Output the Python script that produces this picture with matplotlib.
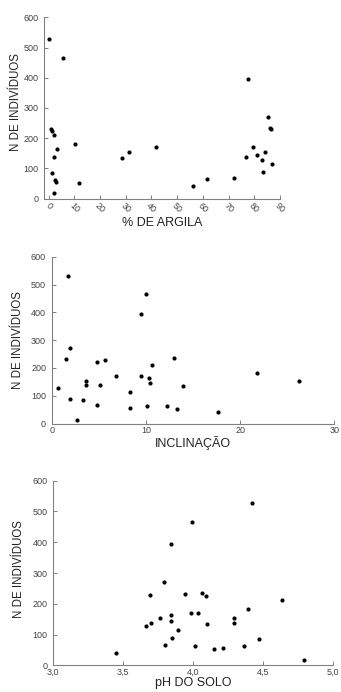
#encoding:utf-8
# N de indivíduos x % de argila, inclinação e pH do solo
import matplotlib
matplotlib.use('Agg')
from matplotlib import pyplot as plt

# % de argila
argila_x = [0.0, 5.7, 1.0, 1.3, 2.1, 3.4, 2.2, 1.2, 2.5, 3.0, 2.2, 10.4, 11.7,
            28.5, 31.1, 41.6, 56.0, 61.7, 72.0, 77.7, 76.9, 79.4, 80.9, 83.0,
            83.4, 84.2, 85.5, 86.0, 86.5, 87.0]
argila_y = [528, 464, 230, 225, 212, 163, 138, 86, 62, 55, 17, 182, 53,
            136, 153, 172, 41, 65, 67, 395, 139, 171, 144, 128,
            89, 153, 270, 235, 231, 116]

# inclinação
incl_x = [1.77, 9.97, 9.48, 1.98, 1.49, 4.78, 5.66, 12.98, 10.65, 6.79, 9.48,
          10.33, 10.47, 3.64, 3.64, 5.13, 13.94, 0.64, 8.31, 1.98, 3.29, 4.81,
          10.12, 12.27, 8.31, 13.30, 17.6, 2.65, 21.75, 26.28]
incl_y = [529, 466, 395, 271, 231, 223, 229, 235, 211, 171, 171,
          163, 144, 153, 138, 137, 134, 127, 114, 89, 84, 67,
          63, 63, 55, 53, 40, 14, 182, 152]

# pH do solo
ph_x = [4.42, 3.99, 3.84, 3.79, 3.69, 3.94, 4.06, 4.09, 4.63, 4.39, 3.98, 4.03,
        3.76, 3.84, 3.84, 3.70, 3.66, 4.10, 4.29, 4.29, 3.89, 3.85, 4.47, 3.80,
        4.01, 4.36, 4.15, 4.21, 3.45, 4.79]
ph_y = [529, 465, 394, 270, 230, 232, 236, 225, 211, 182, 171, 171,
        154, 164, 145, 139, 128, 135, 154, 138, 114, 90, 85, 67,
        64, 64, 54, 55, 41, 16]

plt.rcParams['font.family'] = ['Liberation Sans', 'DejaVu Sans']
cinza = '#808080'


def grafico(ax, x, y, xlim, xticks, xticklabels, xlabel, ylab_pos, xlab_pos):
    ax.plot(x, y, 'o', color='black', markersize=3, markeredgewidth=0)
    ax.set_xlim(xlim)
    ax.set_ylim(0, 600)
    ax.set_xticks(xticks)
    ax.set_xticklabels(xticklabels)
    ax.set_yticks(range(0, 601, 100))
    for s in ['top', 'right']:
        ax.spines[s].set_visible(False)
    for s in ['left', 'bottom']:
        ax.spines[s].set_color(cinza)
        ax.spines[s].set_linewidth(0.8)
    ax.tick_params(direction='in', length=3, width=0.7, color=cinza,
                   labelsize=6.5, labelcolor='#444444', pad=4)
    ax.tick_params(axis='x', pad=1.5)
    ax.set_ylabel('N DE INDIVÍDUOS', fontsize=8.3, color='#222222')
    ax.set_xlabel(xlabel, fontsize=9, color='#222222')
    ax.yaxis.set_label_coords(*ylab_pos)
    ax.xaxis.set_label_coords(*xlab_pos)


fig = plt.figure(figsize=(3.41, 6.92), dpi=100)

ax1 = fig.add_axes([0.130, 0.713, 0.691, 0.262])
grafico(ax1, argila_x, argila_y, (-1.7, 90), range(0, 91, 10),
        [str(i) for i in range(0, 91, 10)], '% DE ARGILA',
        (-0.096, 0.53), (0.5, -0.1))
for t in ax1.get_xticklabels():
    t.set_rotation(-45)
    t.set_ha('center')

ax2 = fig.add_axes([0.1515, 0.388, 0.829, 0.241])
grafico(ax2, incl_x, incl_y, (0, 30), [0, 10, 20, 30],
        ['0', '10', '20', '30'], 'INCLINAÇÃO',
        (-0.098, 0.50), (0.5, -0.078))

ax3 = fig.add_axes([0.1564, 0.0386, 0.821, 0.2667])
grafico(ax3, ph_x, ph_y, (3.0, 5.0), [3.0, 3.5, 4.0, 4.5, 5.0],
        ['3,0', '3,5', '4,0', '4,5', '5,0'], 'pH DO SOLO',
        (-0.101, 0.52), (0.5, -0.062))

plt.savefig('out.png', dpi=100)
